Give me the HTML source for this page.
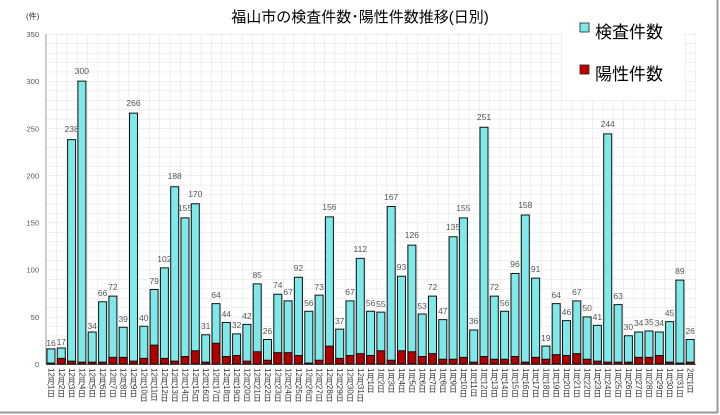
<!DOCTYPE html>
<html><head><meta charset="utf-8"><style>
body{margin:0;background:#fff;}
svg{display:block;font-family:"Liberation Sans","Noto Sans CJK JP",sans-serif;}
</style></head><body>
<svg width="720" height="415" viewBox="0 0 720 415" xmlns="http://www.w3.org/2000/svg">
<defs>
<pattern id="g" patternUnits="userSpaceOnUse" x="46" y="34" width="10.31" height="9.4286">
<path d="M0.25 0V9.43M0 0.25H10.31" stroke="#e2e2e2" stroke-width="0.6" fill="none"/>
</pattern>
</defs>
<rect width="720" height="415" fill="#fff"/>
<line x1="0" y1="412.5" x2="718" y2="412.5" stroke="#999" stroke-width="2"/>
<line x1="717.5" y1="0" x2="717.5" y2="413" stroke="#999" stroke-width="2"/>
<rect x="46" y="34" width="650" height="330" fill="url(#g)"/>
<rect x="563" y="8" width="120" height="92" fill="#fff"/>
<line x1="46" y1="34" x2="46" y2="364" stroke="#999" stroke-width="1"/>
<line x1="46" y1="364.5" x2="696" y2="364.5" stroke="#666" stroke-width="1"/>
<text x="360" y="22" font-size="15" text-anchor="middle" fill="#000">福山市の検査件数･陽性件数推移(日別)</text>
<text x="26" y="19" font-size="8" fill="#333">(件)</text>
<g font-size="7.5" fill="#555" text-anchor="end">
<text x="39" y="367">0</text><text x="39" y="320">50</text><text x="39" y="272.7">100</text><text x="39" y="225.6">150</text><text x="39" y="178.4">200</text><text x="39" y="131.3">250</text><text x="39" y="84.1">300</text><text x="39" y="37">350</text>
</g>
<rect x="580" y="23" width="9" height="9" fill="#7fe9e9" stroke="#222" stroke-width="0.8"/>
<text x="595" y="38" font-size="17" fill="#000">検査件数</text>
<rect x="580" y="65" width="9" height="9" fill="#c00000" stroke="#222" stroke-width="0.8"/>
<text x="595" y="80" font-size="17" fill="#000">陽性件数</text>
<g transform="translate(0,364) scale(1,-0.943)" stroke="#111" stroke-width="1" vector-effect="non-scaling-stroke">
<g fill="#7fe9e9">
<rect x="47" width="8" height="16" vector-effect="non-scaling-stroke"/><rect x="57.3" width="8" height="17" vector-effect="non-scaling-stroke"/><rect x="67.6" width="8" height="238" vector-effect="non-scaling-stroke"/><rect x="77.9" width="8" height="300" vector-effect="non-scaling-stroke"/><rect x="88.2" width="8" height="34" vector-effect="non-scaling-stroke"/><rect x="98.6" width="8" height="66" vector-effect="non-scaling-stroke"/><rect x="108.9" width="8" height="72" vector-effect="non-scaling-stroke"/><rect x="119.2" width="8" height="39" vector-effect="non-scaling-stroke"/><rect x="129.5" width="8" height="266" vector-effect="non-scaling-stroke"/><rect x="139.8" width="8" height="40" vector-effect="non-scaling-stroke"/><rect x="150.1" width="8" height="79" vector-effect="non-scaling-stroke"/><rect x="160.4" width="8" height="102" vector-effect="non-scaling-stroke"/><rect x="170.7" width="8" height="188" vector-effect="non-scaling-stroke"/><rect x="181" width="8" height="155" vector-effect="non-scaling-stroke"/><rect x="191.3" width="8" height="170" vector-effect="non-scaling-stroke"/><rect x="201.7" width="8" height="31" vector-effect="non-scaling-stroke"/><rect x="212" width="8" height="64" vector-effect="non-scaling-stroke"/><rect x="222.3" width="8" height="44" vector-effect="non-scaling-stroke"/><rect x="232.6" width="8" height="32" vector-effect="non-scaling-stroke"/><rect x="242.9" width="8" height="42" vector-effect="non-scaling-stroke"/><rect x="253.2" width="8" height="85" vector-effect="non-scaling-stroke"/><rect x="263.5" width="8" height="26" vector-effect="non-scaling-stroke"/><rect x="273.8" width="8" height="74" vector-effect="non-scaling-stroke"/><rect x="284.1" width="8" height="67" vector-effect="non-scaling-stroke"/><rect x="294.4" width="8" height="92" vector-effect="non-scaling-stroke"/><rect x="304.8" width="8" height="56" vector-effect="non-scaling-stroke"/><rect x="315.1" width="8" height="73" vector-effect="non-scaling-stroke"/><rect x="325.4" width="8" height="156" vector-effect="non-scaling-stroke"/><rect x="335.7" width="8" height="37" vector-effect="non-scaling-stroke"/><rect x="346" width="8" height="67" vector-effect="non-scaling-stroke"/><rect x="356.3" width="8" height="112" vector-effect="non-scaling-stroke"/><rect x="366.6" width="8" height="56" vector-effect="non-scaling-stroke"/><rect x="376.9" width="8" height="55" vector-effect="non-scaling-stroke"/><rect x="387.2" width="8" height="167" vector-effect="non-scaling-stroke"/><rect x="397.5" width="8" height="93" vector-effect="non-scaling-stroke"/><rect x="407.9" width="8" height="126" vector-effect="non-scaling-stroke"/><rect x="418.2" width="8" height="53" vector-effect="non-scaling-stroke"/><rect x="428.5" width="8" height="72" vector-effect="non-scaling-stroke"/><rect x="438.8" width="8" height="47" vector-effect="non-scaling-stroke"/><rect x="449.1" width="8" height="135" vector-effect="non-scaling-stroke"/><rect x="459.4" width="8" height="155" vector-effect="non-scaling-stroke"/><rect x="469.7" width="8" height="36" vector-effect="non-scaling-stroke"/><rect x="480" width="8" height="251" vector-effect="non-scaling-stroke"/><rect x="490.3" width="8" height="72" vector-effect="non-scaling-stroke"/><rect x="500.6" width="8" height="56" vector-effect="non-scaling-stroke"/><rect x="511" width="8" height="96" vector-effect="non-scaling-stroke"/><rect x="521.3" width="8" height="158" vector-effect="non-scaling-stroke"/><rect x="531.6" width="8" height="91" vector-effect="non-scaling-stroke"/><rect x="541.9" width="8" height="19" vector-effect="non-scaling-stroke"/><rect x="552.2" width="8" height="64" vector-effect="non-scaling-stroke"/><rect x="562.5" width="8" height="46" vector-effect="non-scaling-stroke"/><rect x="572.8" width="8" height="67" vector-effect="non-scaling-stroke"/><rect x="583.1" width="8" height="50" vector-effect="non-scaling-stroke"/><rect x="593.4" width="8" height="41" vector-effect="non-scaling-stroke"/><rect x="603.7" width="8" height="244" vector-effect="non-scaling-stroke"/><rect x="614.1" width="8" height="63" vector-effect="non-scaling-stroke"/><rect x="624.4" width="8" height="30" vector-effect="non-scaling-stroke"/><rect x="634.7" width="8" height="34" vector-effect="non-scaling-stroke"/><rect x="645" width="8" height="35" vector-effect="non-scaling-stroke"/><rect x="655.3" width="8" height="34" vector-effect="non-scaling-stroke"/><rect x="665.6" width="8" height="45" vector-effect="non-scaling-stroke"/><rect x="675.9" width="8" height="89" vector-effect="non-scaling-stroke"/><rect x="686.2" width="8" height="26" vector-effect="non-scaling-stroke"/>
</g>
<g fill="#b00000">
<rect x="47" width="8" height="1" vector-effect="non-scaling-stroke"/><rect x="57.3" width="8" height="6" vector-effect="non-scaling-stroke"/><rect x="67.6" width="8" height="3" vector-effect="non-scaling-stroke"/><rect x="77.9" width="8" height="2" vector-effect="non-scaling-stroke"/><rect x="88.2" width="8" height="2" vector-effect="non-scaling-stroke"/><rect x="98.6" width="8" height="2" vector-effect="non-scaling-stroke"/><rect x="108.9" width="8" height="7" vector-effect="non-scaling-stroke"/><rect x="119.2" width="8" height="7" vector-effect="non-scaling-stroke"/><rect x="129.5" width="8" height="3" vector-effect="non-scaling-stroke"/><rect x="139.8" width="8" height="6" vector-effect="non-scaling-stroke"/><rect x="150.1" width="8" height="20" vector-effect="non-scaling-stroke"/><rect x="160.4" width="8" height="6" vector-effect="non-scaling-stroke"/><rect x="170.7" width="8" height="3" vector-effect="non-scaling-stroke"/><rect x="181" width="8" height="8" vector-effect="non-scaling-stroke"/><rect x="191.3" width="8" height="14" vector-effect="non-scaling-stroke"/><rect x="201.7" width="8" height="2" vector-effect="non-scaling-stroke"/><rect x="212" width="8" height="22" vector-effect="non-scaling-stroke"/><rect x="222.3" width="8" height="8" vector-effect="non-scaling-stroke"/><rect x="232.6" width="8" height="9" vector-effect="non-scaling-stroke"/><rect x="242.9" width="8" height="3" vector-effect="non-scaling-stroke"/><rect x="253.2" width="8" height="13" vector-effect="non-scaling-stroke"/><rect x="263.5" width="8" height="4" vector-effect="non-scaling-stroke"/><rect x="273.8" width="8" height="12" vector-effect="non-scaling-stroke"/><rect x="284.1" width="8" height="12" vector-effect="non-scaling-stroke"/><rect x="294.4" width="8" height="9" vector-effect="non-scaling-stroke"/><rect x="304.8" width="8" height="1" vector-effect="non-scaling-stroke"/><rect x="315.1" width="8" height="4" vector-effect="non-scaling-stroke"/><rect x="325.4" width="8" height="19" vector-effect="non-scaling-stroke"/><rect x="335.7" width="8" height="6" vector-effect="non-scaling-stroke"/><rect x="346" width="8" height="9" vector-effect="non-scaling-stroke"/><rect x="356.3" width="8" height="11" vector-effect="non-scaling-stroke"/><rect x="366.6" width="8" height="9" vector-effect="non-scaling-stroke"/><rect x="376.9" width="8" height="14" vector-effect="non-scaling-stroke"/><rect x="387.2" width="8" height="4" vector-effect="non-scaling-stroke"/><rect x="397.5" width="8" height="14" vector-effect="non-scaling-stroke"/><rect x="407.9" width="8" height="13" vector-effect="non-scaling-stroke"/><rect x="418.2" width="8" height="8" vector-effect="non-scaling-stroke"/><rect x="428.5" width="8" height="11" vector-effect="non-scaling-stroke"/><rect x="438.8" width="8" height="5" vector-effect="non-scaling-stroke"/><rect x="449.1" width="8" height="5" vector-effect="non-scaling-stroke"/><rect x="459.4" width="8" height="7" vector-effect="non-scaling-stroke"/><rect x="469.7" width="8" height="2" vector-effect="non-scaling-stroke"/><rect x="480" width="8" height="8" vector-effect="non-scaling-stroke"/><rect x="490.3" width="8" height="5" vector-effect="non-scaling-stroke"/><rect x="500.6" width="8" height="5" vector-effect="non-scaling-stroke"/><rect x="511" width="8" height="8" vector-effect="non-scaling-stroke"/><rect x="521.3" width="8" height="2" vector-effect="non-scaling-stroke"/><rect x="531.6" width="8" height="7" vector-effect="non-scaling-stroke"/><rect x="541.9" width="8" height="5" vector-effect="non-scaling-stroke"/><rect x="552.2" width="8" height="10" vector-effect="non-scaling-stroke"/><rect x="562.5" width="8" height="9" vector-effect="non-scaling-stroke"/><rect x="572.8" width="8" height="11" vector-effect="non-scaling-stroke"/><rect x="583.1" width="8" height="5" vector-effect="non-scaling-stroke"/><rect x="593.4" width="8" height="3" vector-effect="non-scaling-stroke"/><rect x="603.7" width="8" height="2" vector-effect="non-scaling-stroke"/><rect x="614.1" width="8" height="2" vector-effect="non-scaling-stroke"/><rect x="624.4" width="8" height="2" vector-effect="non-scaling-stroke"/><rect x="634.7" width="8" height="7" vector-effect="non-scaling-stroke"/><rect x="645" width="8" height="7" vector-effect="non-scaling-stroke"/><rect x="655.3" width="8" height="9" vector-effect="non-scaling-stroke"/><rect x="665.6" width="8" height="2" vector-effect="non-scaling-stroke"/><rect x="675.9" width="8" height="1" vector-effect="non-scaling-stroke"/><rect x="686.2" width="8" height="2" vector-effect="non-scaling-stroke"/>
</g>
</g>
<g font-size="8.5" fill="#555" text-anchor="middle">
<text x="51" y="345.9">16</text><text x="61.3" y="345">17</text><text x="71.6" y="132">238</text><text x="81.9" y="74">300</text><text x="92.2" y="328.9">34</text><text x="102.6" y="296">66</text><text x="112.9" y="290">72</text><text x="123.2" y="322">39</text><text x="133.5" y="106">266</text><text x="143.8" y="321">40</text><text x="154.1" y="284">79</text><text x="164.4" y="262">102</text><text x="174.7" y="179">188</text><text x="185" y="211">155</text><text x="195.3" y="197">170</text><text x="205.7" y="329">31</text><text x="216" y="298">64</text><text x="226.3" y="317">44</text><text x="236.6" y="328">32</text><text x="246.9" y="319">42</text><text x="257.2" y="278">85</text><text x="267.5" y="334">26</text><text x="277.8" y="288">74</text><text x="288.1" y="295">67</text><text x="298.4" y="271">92</text><text x="308.8" y="306">56</text><text x="319.1" y="290">73</text><text x="329.4" y="210">156</text><text x="339.7" y="324">37</text><text x="350" y="295">67</text><text x="360.3" y="252">112</text><text x="370.6" y="306">56</text><text x="380.9" y="307">55</text><text x="391.2" y="200">167</text><text x="401.5" y="270">93</text><text x="411.9" y="238">126</text><text x="422.2" y="309">53</text><text x="432.5" y="290">72</text><text x="442.8" y="314">47</text><text x="453.1" y="230">135</text><text x="463.4" y="211">155</text><text x="473.7" y="324">36</text><text x="484" y="120">251</text><text x="494.3" y="290">72</text><text x="504.6" y="306">56</text><text x="515" y="267">96</text><text x="525.3" y="208">158</text><text x="535.6" y="272">91</text><text x="545.9" y="341">19</text><text x="556.2" y="298">64</text><text x="566.5" y="315">46</text><text x="576.8" y="295">67</text><text x="587.1" y="311">50</text><text x="597.4" y="320">41</text><text x="607.7" y="127">244</text><text x="618.1" y="299">63</text><text x="628.4" y="330">30</text><text x="638.7" y="326">34</text><text x="649" y="325">35</text><text x="659.3" y="326">34</text><text x="669.6" y="316">45</text><text x="679.9" y="274">89</text><text x="690.2" y="334">26</text>
</g>
<g font-size="8" fill="#333" writing-mode="tb" style="writing-mode:vertical-rl">
<text x="51" y="368">12月1日</text><text x="61.3" y="368">12月2日</text><text x="71.6" y="368">12月3日</text><text x="81.9" y="368">12月4日</text><text x="92.2" y="368">12月5日</text><text x="102.6" y="368">12月6日</text><text x="112.9" y="368">12月7日</text><text x="123.2" y="368">12月8日</text><text x="133.5" y="368">12月9日</text><text x="143.8" y="368">12月10日</text><text x="154.1" y="368">12月11日</text><text x="164.4" y="368">12月12日</text><text x="174.7" y="368">12月13日</text><text x="185" y="368">12月14日</text><text x="195.3" y="368">12月15日</text><text x="205.7" y="368">12月16日</text><text x="216" y="368">12月17日</text><text x="226.3" y="368">12月18日</text><text x="236.6" y="368">12月19日</text><text x="246.9" y="368">12月20日</text><text x="257.2" y="368">12月21日</text><text x="267.5" y="368">12月22日</text><text x="277.8" y="368">12月23日</text><text x="288.1" y="368">12月24日</text><text x="298.4" y="368">12月25日</text><text x="308.8" y="368">12月26日</text><text x="319.1" y="368">12月27日</text><text x="329.4" y="368">12月28日</text><text x="339.7" y="368">12月29日</text><text x="350" y="368">12月30日</text><text x="360.3" y="368">12月31日</text><text x="370.6" y="368">1月1日</text><text x="380.9" y="368">1月2日</text><text x="391.2" y="368">1月3日</text><text x="401.5" y="368">1月4日</text><text x="411.9" y="368">1月5日</text><text x="422.2" y="368">1月6日</text><text x="432.5" y="368">1月7日</text><text x="442.8" y="368">1月8日</text><text x="453.1" y="368">1月9日</text><text x="463.4" y="368">1月10日</text><text x="473.7" y="368">1月11日</text><text x="484" y="368">1月12日</text><text x="494.3" y="368">1月13日</text><text x="504.6" y="368">1月14日</text><text x="515" y="368">1月15日</text><text x="525.3" y="368">1月16日</text><text x="535.6" y="368">1月17日</text><text x="545.9" y="368">1月18日</text><text x="556.2" y="368">1月19日</text><text x="566.5" y="368">1月20日</text><text x="576.8" y="368">1月21日</text><text x="587.1" y="368">1月22日</text><text x="597.4" y="368">1月23日</text><text x="607.7" y="368">1月24日</text><text x="618.1" y="368">1月25日</text><text x="628.4" y="368">1月26日</text><text x="638.7" y="368">1月27日</text><text x="649" y="368">1月28日</text><text x="659.3" y="368">1月29日</text><text x="669.6" y="368">1月30日</text><text x="679.9" y="368">1月31日</text><text x="690.2" y="368">2月1日</text>
</g>
</svg>
</body></html>
